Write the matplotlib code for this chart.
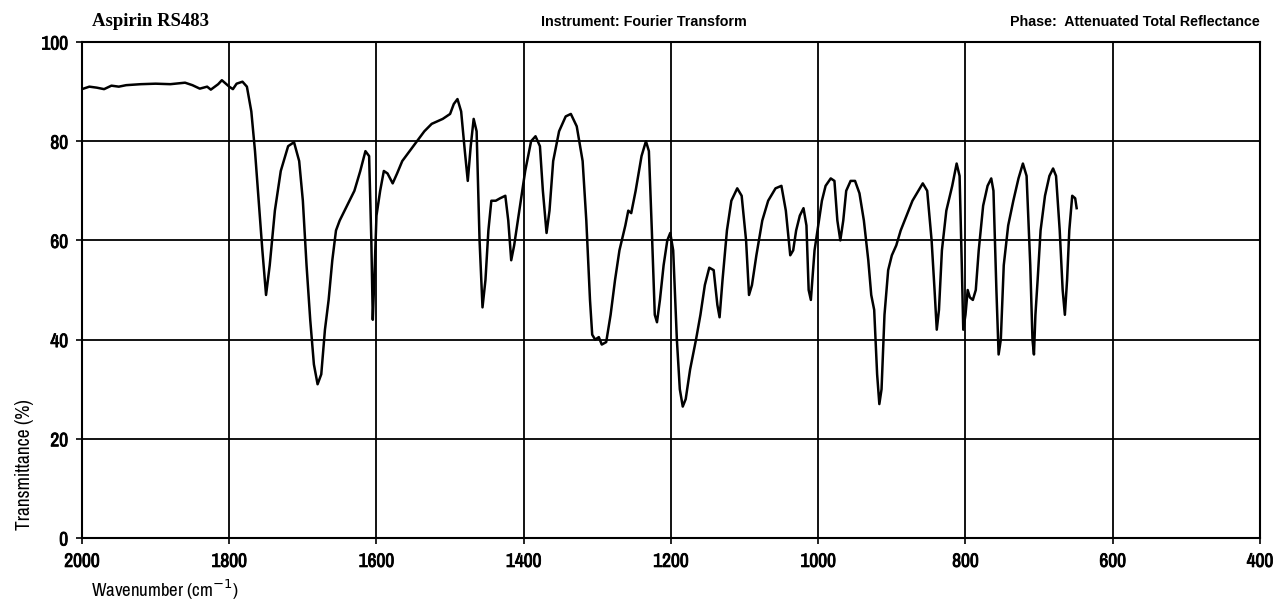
import numpy as np
import matplotlib
matplotlib.use("Agg")
import matplotlib.pyplot as plt
import matplotlib.patheffects as pe
from matplotlib import font_manager

# IR spectrum of aspirin (ATR), transmittance vs wavenumber
wavenumber = [
    2000, 1990, 1980, 1970, 1960, 1950, 1940, 1920, 1900, 1880, 1860, 1850,
    1840, 1830, 1825, 1815, 1810, 1800, 1795, 1790, 1782, 1776, 1770, 1765,
    1760, 1755, 1750, 1745, 1738, 1730, 1720, 1712, 1705, 1700, 1695, 1690,
    1685, 1680, 1675, 1670, 1665, 1660, 1655, 1650, 1640, 1630, 1622, 1615,
    1610, 1607, 1605, 1603, 1600, 1595, 1590, 1585, 1578, 1572, 1565, 1555,
    1545, 1535, 1525, 1510, 1500, 1495, 1490, 1485, 1480, 1476, 1472, 1468,
    1464, 1460, 1456, 1452, 1448, 1444, 1438, 1432, 1425, 1421, 1417, 1413,
    1405, 1398, 1390, 1384, 1378, 1374, 1369, 1365, 1360, 1352, 1343, 1336,
    1328, 1320, 1315, 1310, 1307, 1303, 1298, 1294, 1288, 1282, 1276, 1270,
    1262, 1258, 1254, 1248, 1240, 1234, 1230, 1226, 1222, 1219, 1215, 1210,
    1205, 1201, 1197, 1192, 1188, 1184, 1180, 1174, 1166, 1160, 1154, 1148,
    1142, 1137, 1134, 1130, 1124, 1118, 1110, 1104, 1098, 1094, 1090, 1084,
    1076, 1068, 1058, 1050, 1044, 1038, 1034, 1030, 1025, 1020, 1016, 1013,
    1010, 1005, 1000, 995, 990, 983, 978, 974, 970, 966, 962, 956,
    950, 944, 938, 932, 928, 924, 920, 917, 914, 910, 905, 900,
    894, 888, 880, 872, 864, 858, 852, 846, 842, 839, 836, 832,
    826, 818, 812, 808, 805, 803, 800, 797, 794, 790, 786, 782,
    776, 770, 765, 762, 758, 755, 752, 748, 742, 735, 728, 722,
    717, 712, 709, 707, 705, 702, 698, 692, 686, 681, 677, 672,
    668, 665, 662, 659, 655, 651, 649,
]
transmittance = [
    90.5, 91.0, 90.8, 90.5, 91.2, 91.0, 91.3, 91.5, 91.6, 91.5, 91.8, 91.3,
    90.6, 91.0, 90.4, 91.5, 92.3, 91.0, 90.5, 91.6, 92.0, 91.0, 86.0, 78.0,
    68.0, 58.0, 49.0, 55.0, 66.0, 74.0, 79.0, 79.8, 76.0, 68.0, 55.0, 44.0,
    35.0, 31.0, 33.0, 42.0, 48.0, 56.0, 62.0, 64.0, 67.0, 70.0, 74.0, 78.0,
    77.0, 60.0, 44.0, 52.0, 65.0, 70.0, 74.0, 73.5, 71.5, 73.5, 76.0, 78.0,
    80.0, 82.0, 83.5, 84.5, 85.5, 87.5, 88.5, 86.0, 78.0, 72.0, 79.0, 84.5,
    82.0, 60.0, 46.5, 52.0, 62.0, 68.0, 68.0, 68.5, 69.0, 64.0, 56.0, 59.0,
    67.0, 74.0, 80.0, 81.0, 79.0, 70.0, 61.5, 66.0, 76.0, 82.0, 85.0, 85.5,
    83.0, 76.0, 64.0, 48.0, 41.0, 40.0, 40.5, 39.0, 39.5, 45.0, 52.0, 58.0,
    63.0, 66.0, 65.5, 70.0, 77.0, 80.0, 78.0, 62.0, 45.0, 43.5, 48.0, 55.0,
    60.0, 61.5, 58.0, 40.0, 30.0, 26.5, 28.0, 34.0, 40.0, 45.0, 51.0, 54.5,
    54.0, 47.0, 44.5, 52.0, 62.0, 68.0, 70.5, 69.0, 60.0, 49.0, 51.0, 57.0,
    64.0, 68.0, 70.5, 71.0, 66.0, 57.0, 58.0, 62.0, 65.0, 66.5, 63.0, 50.0,
    48.0, 58.0, 63.0, 68.0, 71.0, 72.5, 72.0, 64.0, 60.0, 64.0, 70.0, 72.0,
    72.0, 69.5, 64.0, 56.0, 49.0, 46.0, 33.0, 27.0, 30.0, 45.0, 54.0, 57.0,
    59.0, 62.0, 65.0, 68.0, 70.0, 71.5, 70.0, 60.0, 50.0, 42.0, 46.0, 58.0,
    66.0, 71.0, 75.5, 73.0, 55.0, 42.0, 45.0, 50.0, 48.5, 48.0, 50.0, 58.0,
    67.0, 71.0, 72.5, 70.0, 50.0, 37.0, 40.0, 55.0, 63.0, 68.0, 72.5, 75.5,
    73.0, 55.0, 40.0, 37.0, 45.0, 52.0, 62.0, 69.0, 73.0, 74.5, 73.0, 62.0,
    50.0, 45.0, 52.0, 62.0, 69.0, 68.5, 66.5,
]

x_ticks = [2000, 1800, 1600, 1400, 1200, 1000, 800, 600, 400]
y_ticks = [0, 20, 40, 60, 80, 100]

# narrow sans for the axis text if one is around
narrow, stretch = "Liberation Sans", "normal"
for f in font_manager.fontManager.ttflist:
    if "Narrow" in f.name or "Condensed" in f.name:
        narrow, stretch = f.name, "normal"
        break
    if f.stretch == "condensed" and f.name in ("DejaVu Sans", "Liberation Sans"):
        narrow, stretch = f.name, "condensed"

# thicken the narrow tick digits a little
heavy = [pe.withStroke(linewidth=0.6, foreground="black")]

fig = plt.figure(figsize=(12.87, 6.09), dpi=100)
ax = fig.add_axes([0.0637, 0.1166, 0.9153, 0.8144])

ax.plot(wavenumber, transmittance, color="black", linewidth=1.8)

ax.set_xlim(2000, 400)
ax.set_ylim(0, 100)
ax.set_xticks(x_ticks)
ax.set_yticks(y_ticks)
ax.grid(True, color="black", linewidth=1.3)
for s in ax.spines.values():
    s.set_linewidth(1.5)
ax.tick_params(direction="out", length=4, width=1.2, pad=6)
for lab in ax.get_xticklabels() + ax.get_yticklabels():
    lab.set_fontfamily(narrow)
    lab.set_fontstretch(stretch)
    lab.set_fontsize(14)
    lab.set_fontweight("bold")
    lab.set_path_effects(heavy)

fig.text(0.0715, 0.958, "Aspirin RS483", family="Liberation Serif",
         fontsize=13.5, fontweight="bold", ha="left", va="baseline")
fig.text(0.500, 0.958, "Instrument: Fourier Transform", family="Liberation Sans",
         fontsize=10.3, fontweight="bold", ha="center", va="baseline")
fig.text(0.979, 0.958, "Phase:  Attenuated Total Reflectance", family="Liberation Sans",
         fontsize=10.3, fontweight="bold", ha="right", va="baseline")

fig.text(0.0187, 0.237, "Transmittance (%)", family=narrow, fontstretch=stretch,
         fontsize=14, rotation=90, ha="center", va="center")
fig.text(0.0707, 0.031, "Wavenumber (cm$^{-1}$)", family=narrow, fontstretch=stretch,
         fontsize=13.5, ha="left", va="center")

fig.savefig("out.png", dpi=100)
